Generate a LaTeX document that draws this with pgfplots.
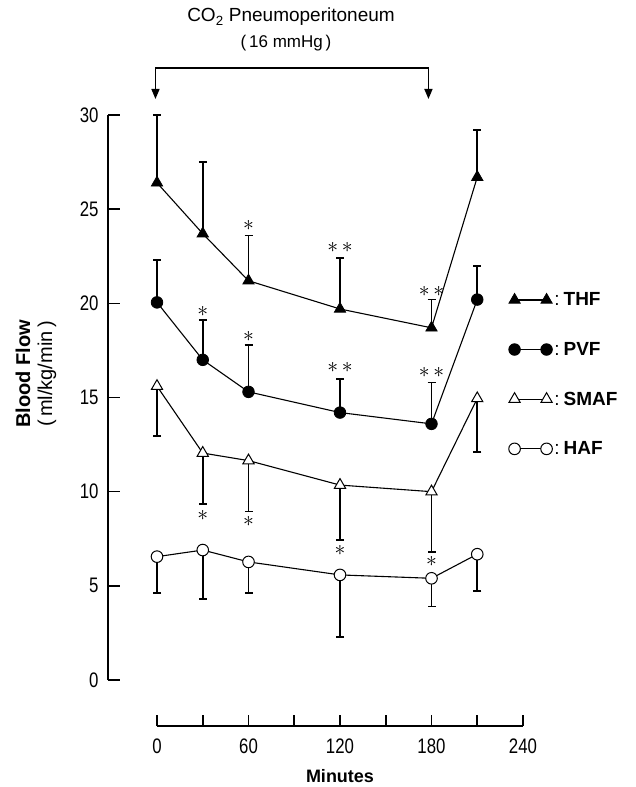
\documentclass[border=0pt]{standalone}
\usepackage{pgfplots}
\pgfplotsset{compat=1.18}
\usepackage{fontspec}
\setmainfont{Liberation Sans}
\newfontfamily\narrow[FakeStretch=0.8]{Liberation Sans}
\usetikzlibrary{arrows.meta}
\pgfplotsset{
  errup/.style={error bars/.cd, y dir=plus, y explicit,
    error bar style={line width=1.8pt},
    error mark options={rotate=90, line width=1.8pt, mark size=4pt}},
  errdown/.style={error bars/.cd, y dir=minus, y explicit,
    error bar style={line width=1.8pt},
    error mark options={rotate=90, line width=1.8pt, mark size=4pt}},
}
\begin{document}
\begin{tikzpicture}
\useasboundingbox (0pt,0pt) rectangle (635pt,-787pt);
\begin{axis}[
  at={(108pt,-680pt)}, anchor=south west,
  scale only axis, width=415pt, height=565pt,
  xmin=-32.13, xmax=240, ymin=0, ymax=30,
  axis x line=none, axis y line*=left,
  axis line style={-, line width=1.6pt},
  ytick={0,5,...,30},
  tick align=inside, major tick length=12pt,
  ytick style={line width=1.6pt, black},
  yticklabel style={font=\narrow\fontsize{21}{21}\selectfont, xshift=-6pt},
  /pgf/number format/assume math mode=true,
  clip=false,
  legend style={draw=none, fill=none, at={(0.958,0.693)}, anchor=north west,
     row sep=31pt, font=\fontsize{19}{19}\selectfont, cells={anchor=west}},
  legend image code/.code={\draw[#1] plot coordinates {(0pt,0pt) (32pt,0pt)};},
]
% THF
\addplot[black, line width=1.1pt, mark=triangle*, mark size=6.5pt,
  mark options={fill=black, line width=0.8pt}, errup]
  coordinates {(0,26.4) +- (0,3.6) (30,23.7) +- (0,3.8) (60,21.2) +- (0,2.4)
               (120,19.7) +- (0,2.7) (180,18.7) +- (0,1.5) (210,26.7) +- (0,2.5)};
\addlegendentry{:\kern4pt\textbf{THF}}
% PVF
\addplot[black, line width=1.1pt, mark=*, mark size=5.8pt,
  mark options={fill=black, line width=0.8pt}, errup]
  coordinates {(0,20.05) +- (0,2.25) (30,17.0) +- (0,2.1) (60,15.3) +- (0,2.5)
               (120,14.2) +- (0,1.8) (180,13.6) +- (0,2.2) (210,20.2) +- (0,1.8)};
\addlegendentry{:\kern4pt\textbf{PVF}}
% SMAF
\addplot[black, line width=1.1pt, mark=triangle*, mark size=6.5pt,
  mark options={fill=white, line width=1pt}, errdown]
  coordinates {(0,15.6) +- (0,2.65) (30,12.05) +- (0,2.7) (60,11.65) +- (0,2.7)
               (120,10.35) +- (0,2.9) (180,10.0) +- (0,3.2) (210,14.95) +- (0,2.85)};
\addlegendentry{:\kern4pt\textbf{SMAF}}
% HAF
\addplot[black, line width=1.1pt, mark=*, mark size=5.8pt,
  mark options={fill=white, line width=1pt}, errdown]
  coordinates {(0,6.55) +- (0,1.95) (30,6.9) +- (0,2.6) (60,6.27) +- (0,1.67)
               (120,5.58) +- (0,3.3) (180,5.4) +- (0,1.5) (210,6.68) +- (0,1.94)};
\addlegendentry{:\kern4pt\textbf{HAF}}
% significance marks
\tikzset{st/.style={font=\fontsize{14}{14}\selectfont, inner sep=0pt, scale=1.5}}
\node[st] at (axis cs:60,24.15) {$\ast$};
\node[st] at (axis cs:120,22.95) {$\ast\,\ast$};
\node[st] at (axis cs:180,20.65) {$\ast\,\ast$};
\node[st] at (axis cs:30,19.55) {$\ast$};
\node[st] at (axis cs:60,18.25) {$\ast$};
\node[st] at (axis cs:120,16.6) {$\ast\,\ast$};
\node[st] at (axis cs:180,16.35) {$\ast\,\ast$};
\node[st] at (axis cs:30,8.75) {$\ast$};
\node[st] at (axis cs:60,8.4) {$\ast$};
\node[st] at (axis cs:120,6.9) {$\ast$};
\node[st] at (axis cs:180,6.3) {$\ast$};
% pneumoperitoneum bracket
\draw[line width=1.5pt, {Triangle[length=10pt,width=8pt]}-{Triangle[length=10pt,width=8pt]}]
  (axis cs:-1,30.85) -- (axis cs:-1,32.5) -- (axis cs:178,32.5) -- (axis cs:178,30.85);
\end{axis}
\begin{axis}[
  at={(157pt,-726pt)}, anchor=south west,
  scale only axis, width=366pt, height=10pt,
  xmin=0, xmax=240, ymin=0, ymax=1,
  axis y line=none, axis x line*=bottom,
  axis line style={-, line width=1.6pt},
  xtick={0,30,...,240}, xticklabels={0,,60,,120,,180,,240},
  tick align=inside, major tick length=11pt,
  xtick style={line width=1.6pt, black},
  xticklabel style={font=\narrow\fontsize{21}{21}\selectfont, yshift=-9pt},
  xlabel={\textbf{Minutes}}, xlabel style={font=\fontsize{18}{18}\selectfont, yshift=-9pt},
]
\addplot[draw=none] coordinates {(0,0)};
\end{axis}
\node[font=\fontsize{19}{19}\selectfont] at (291pt,-17pt) {CO\textsubscript{2} Pneumoperitoneum};
\node[font=\fontsize{17}{17}\selectfont] at (286pt,-43pt) {(\,16 mmHg\,)};
\node[rotate=90, align=center, font=\fontsize{20}{22}\selectfont] at (36pt,-374pt)
  {\textbf{Blood Flow}\\(\,ml/kg/min\,)};
\end{tikzpicture}
\end{document}
